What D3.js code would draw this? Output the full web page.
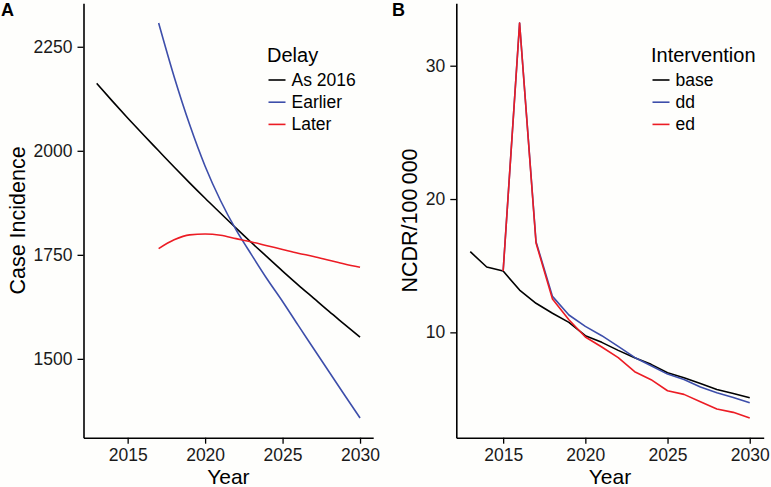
<!DOCTYPE html>
<html><head><meta charset="utf-8">
<script src="https://cdn.jsdelivr.net/npm/d3@7"></script>
<style>
html,body{margin:0;padding:0;background:#fefefc;}
svg{display:block;font-family:"Liberation Sans",Arial,Helvetica,sans-serif;}
</style></head>
<body>
<svg id="chart" width="771" height="487"></svg>
<script>
// ---------- Panel A data ----------
const yearsA_asIs = [2013,2014,2015,2016,2017,2018,2019,2020,2021,2022,2023,2024,2025,2026,2027,2028,2029,2030];
const asIs2016 = [2162,2120,2079,2039,2000,1961,1923,1886,1850,1814,1779,1745,1711,1678,1646,1614,1583,1552];
const yearsA_delay = [2017,2018,2019,2020,2021,2022,2023,2024,2025,2026,2027,2028,2029,2030];
const earlier = [2307,2178,2063,1963,1880,1810,1750,1692,1638,1581,1525,1469,1413,1358];
const later   = [1765,1786,1798,1800,1797,1789,1781,1772,1763,1754,1746,1737,1728,1720];
const delayLabels = ["As 2016","Earlier","Later"];
const ticksAx = [2015,2020,2025,2030];
const ticksAy = [1500,1750,2000,2250];

// ---------- Panel B data ----------
const yearsB_base = [2013,2014,2015,2016,2017,2018,2019,2020,2021,2022,2023,2024,2025,2026,2027,2028,2029,2030];
const base = [16.05,14.9,14.6,13.17,12.18,11.43,10.75,9.75,9.25,8.65,8.1,7.6,6.97,6.6,6.17,5.72,5.42,5.09];
const yearsB_int = [2015,2016,2017,2018,2019,2020,2021,2022,2023,2024,2025,2026,2027,2028,2029,2030];
const dd = [14.6,33.2,16.8,12.7,11.3,10.45,9.75,8.95,8.12,7.5,6.87,6.47,5.9,5.47,5.12,4.72];
const ed = [14.6,33.2,16.7,12.5,10.95,9.65,8.9,8.1,7.05,6.45,5.62,5.35,4.8,4.25,4.0,3.58];
const interventionLabels = ["base","dd","ed"];
const ticksBx = [2015,2020,2025,2030];
const ticksBy = [10,20,30];

const colors = ["#000000","#3d4eaa","#ec1c24"];

const svg = d3.select("#chart");
const tickFont = 17.5, titleFont = 21;

function expand(ext){const d=(ext[1]-ext[0])*0.05;return [ext[0]-d,ext[1]+d];}

function panel(opts){
  const g = svg.append("g");
  const x = d3.scaleLinear().domain(expand(opts.xExt)).range([opts.left, opts.right]);
  const y = d3.scaleLinear().domain(expand(opts.yExt)).range([opts.bottom, opts.top]);

  const xAxis = g.append("g").attr("transform",`translate(0,${opts.bottom})`)
    .call(d3.axisBottom(x).tickValues(opts.xTicks).tickFormat(d3.format("d")).tickSize(6).tickSizeOuter(0).tickPadding(4));
  const yAxis = g.append("g").attr("transform",`translate(${opts.left},0)`)
    .call(d3.axisLeft(y).tickValues(opts.yTicks).tickFormat(d3.format("d")).tickSize(6).tickSizeOuter(0).tickPadding(5));
  [xAxis,yAxis].forEach(a=>{
    a.select(".domain").attr("stroke","#000").attr("stroke-width",1.6);
    a.selectAll(".tick line").attr("stroke","#000").attr("stroke-width",1.3);
    a.selectAll(".tick text").attr("fill","#1a1a1a").style("font-size",tickFont+"px").style("font-family","'Liberation Sans',Arial,sans-serif");
  });
  xAxis.selectAll(".tick text").attr("dy","0.78em");

  const line = d3.line().x(d=>x(d[0])).y(d=>y(d[1])).curve(opts.curve);
  opts.series.forEach((s,i)=>{
    g.append("path").datum(d3.zip(s.years,s.values))
      .attr("fill","none").attr("stroke",colors[i]).attr("stroke-width",1.6)
      .attr("stroke-linejoin","round").attr("d",line);
  });

  // axis titles
  g.append("text").attr("x",(opts.left+opts.right)/2).attr("y",484)
    .attr("text-anchor","middle").style("font-size",titleFont+"px").attr("fill","#000").text("Year");
  g.append("text").attr("transform",`translate(${opts.yTitleX},${(opts.top+opts.bottom)/2}) rotate(-90)`)
    .attr("text-anchor","middle").style("font-size","21.5px").attr("fill","#000").text(opts.yTitle);

  // panel tag
  g.append("text").attr("x",opts.tagX).attr("y",16).style("font-size","18px").style("font-weight","bold").text(opts.tag);

  // legend
  const lg = g.append("g");
  lg.append("text").attr("x",opts.legX).attr("y",62).style("font-size","20px").attr("fill","#000").text(opts.legTitle);
  opts.labels.forEach((lab,i)=>{
    const cy = 80 + i*22.2;
    lg.append("line").attr("x1",opts.legX+1.5).attr("x2",opts.legX+18.5).attr("y1",cy).attr("y2",cy)
      .attr("stroke",colors[i]).attr("stroke-width",1.6);
    lg.append("text").attr("x",opts.legX+24.5).attr("y",cy+6).style("font-size","17.5px").attr("fill","#000").text(lab);
  });
}

panel({
  left:83.5,right:373.2,top:3.3,bottom:437.7,
  xExt:[2013,2030], yExt:[1358,2307],
  xTicks:ticksAx, yTicks:ticksAy, curve:d3.curveMonotoneX,
  series:[{years:yearsA_asIs,values:asIs2016},{years:yearsA_delay,values:earlier},{years:yearsA_delay,values:later}],
  yTitle:"Case Incidence", yTitleX:25, tag:"A", tagX:1,
  legX:267, legTitle:"Delay", labels:delayLabels
});

panel({
  left:456.3,right:763.7,top:3.3,bottom:437.7,
  xExt:[2013,2030], yExt:[3.58,33.2],
  xTicks:ticksBx, yTicks:ticksBy, curve:d3.curveLinear,
  series:[{years:yearsB_base,values:base},{years:yearsB_int,values:dd},{years:yearsB_int,values:ed}],
  yTitle:"NCDR/100\u2009000", yTitleX:417, tag:"B", tagX:392,
  legX:651, legTitle:"Intervention", labels:interventionLabels
});
</script>
</body></html>
